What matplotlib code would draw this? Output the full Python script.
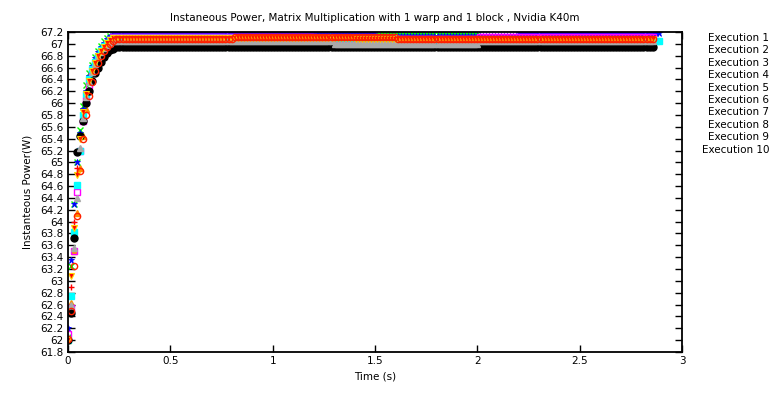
import numpy as np
import matplotlib
matplotlib.use('agg')
import matplotlib.pyplot as plt

# sampling period of the power readings (s)
dt = 0.0148

labels = ['Execution %d' % i for i in range(1, 11)]

# ramp-up readings (W), one per sample from t = 0
rise_1 = [62.02, 62.9, 64.0, 64.9, 65.5, 65.9, 66.2, 66.4, 66.55, 66.68, 66.78, 66.86, 66.93, 66.98, 67.03, 67.06, 67.1]
rise_2 = [62.05, 63.25, 64.3, 65.0, 65.55, 65.95, 66.3, 66.5, 66.65, 66.78, 66.88, 66.96, 67.04, 67.1, 67.14, 67.17]
rise_3 = [62.2, 63.35, 64.3, 65.0, 65.5, 65.9, 66.2, 66.45, 66.62, 66.76, 66.86, 66.95, 67.02, 67.08, 67.14, 67.18]
rise_4 = [62.1, 62.55, 63.5, 64.5, 65.2, 65.7, 66.05, 66.3, 66.5, 66.65, 66.77, 66.87, 66.95, 67.01, 67.06, 67.12]
rise_5 = [62.0, 62.75, 63.82, 64.62, 65.2, 65.8, 66.15, 66.4, 66.57, 66.7, 66.8, 66.89, 66.96, 67.02, 67.06, 67.1]
rise_6 = [62.0, 62.46, 63.72, 65.17, 65.45, 65.7, 66.0, 66.2, 66.38, 66.5, 66.6, 66.7, 66.78, 66.84, 66.89, 66.92, 66.94]
rise_7 = [62.05, 62.6, 63.55, 64.4, 65.25, 65.75, 66.1, 66.35, 66.52, 66.66, 66.77, 66.86, 66.93, 66.98, 67.02, 67.04]
rise_8 = [62.0, 62.62, 63.5, 64.15, 64.9, 65.45, 65.9, 66.2, 66.42, 66.58, 66.7, 66.8, 66.88, 66.94, 67.0]
rise_9 = [62.0, 63.08, 63.9, 64.78, 65.4, 65.85, 66.15, 66.38, 66.55, 66.68, 66.79, 66.88, 66.95, 67.01, 67.06, 67.1]
rise_10 = [62.02, 62.5, 63.25, 64.1, 64.85, 65.4, 65.8, 66.12, 66.36, 66.55, 66.68, 66.79, 66.88, 66.95, 67.0, 67.04, 67.08]

# steady-state readings: (segment end time in s, power in W)
flat_1 = [(1.0, 67.1), (2.0, 67.06), (2.87, 67.1)]
flat_2 = [(0.55, 67.17), (0.8, 66.94), (2.0, 67.17), (2.87, 67.04)]
flat_3 = [(1.5, 67.18), (2.2, 67.14), (2.89, 67.18)]
flat_4 = [(1.2, 67.12), (2.0, 67.08), (2.87, 67.12)]
flat_5 = [(1.6, 67.1), (2.2, 67.0), (2.89, 67.04)]
flat_6 = [(2.87, 66.94)]
flat_7 = [(1.3, 67.04), (2.0, 67.0), (2.87, 67.04)]
flat_8 = [(2.87, 67.0)]
flat_9 = [(1.4, 67.1), (2.87, 67.08)]
flat_10 = [(0.8, 67.08), (1.6, 67.12), (2.87, 67.08)]

rises = [rise_1, rise_2, rise_3, rise_4, rise_5, rise_6, rise_7, rise_8, rise_9, rise_10]
flats = [flat_1, flat_2, flat_3, flat_4, flat_5, flat_6, flat_7, flat_8, flat_9, flat_10]

# gnuplot-like point styles
styles = [
    dict(marker='+', color='red', ms=5, mew=1),
    dict(marker='x', color='#00ff00', ms=4, mew=1),
    dict(marker='*', color='blue', ms=5, mew=0.6),
    dict(marker='s', mfc='none', mec='magenta', ms=4.5, mew=1),
    dict(marker='s', color='cyan', ms=4.5),
    dict(marker='o', color='black', ms=5),
    dict(marker='^', color='darkgray', ms=5),
    dict(marker='^', color='#ff8c00', ms=4.5, zorder=1.5),
    dict(marker='v', mfc='red', mec='gold', ms=4.5, mew=0.8),
    dict(marker='o', mfc='none', mec='#ff2000', ms=4.5, mew=1),
]


def build_series(rise, flat):
    t_end = flat[-1][0]
    t = np.arange(0, t_end + 1e-9, dt)
    p = np.empty_like(t)
    for i, ti in enumerate(t):
        if i < len(rise):
            p[i] = rise[i]
        else:
            for seg_end, level in flat:
                if ti <= seg_end + 1e-9:
                    p[i] = level
                    break
    return t, p


fig = plt.figure(figsize=(7.77, 3.94), dpi=100)
ax = fig.add_axes([0.0875, 0.1066, 0.7902, 0.8122])

for rise, flat, st in zip(rises, flats, styles):
    t, p = build_series(rise, flat)
    ax.plot(t, p, ls='none', **st)

ax.set_xlim(0, 3)
ax.set_ylim(61.8, 67.2)
ax.set_xticks(np.arange(0, 3.01, 0.5))
ax.set_xticklabels(['0', '0.5', '1', '1.5', '2', '2.5', '3'])
yt = np.round(np.arange(61.8, 67.21, 0.2), 1)
ax.set_yticks(yt)
ax.set_yticklabels(['%g' % v for v in yt])
ax.tick_params(direction='in', top=True, right=True, labelsize=7.5, length=5, width=1, pad=3)
for sp in ax.spines.values():
    sp.set_linewidth(1.3)

ax.set_xlabel('Time (s)', fontsize=7.5, labelpad=4)
ax.set_ylabel('Instanteous Power(W)', fontsize=7.5, labelpad=6)
ax.set_title('Instaneous Power, Matrix Multiplication with 1 warp and 1 block , Nvidia K40m',
             fontsize=7.5, pad=8)

# key entries, right-aligned in the margin
for i, lab in enumerate(labels):
    fig.text(0.99, (394 - 38 - i * 12.4) / 394, lab, ha='right', va='center', fontsize=7.5)

fig.savefig('out.png', dpi=100)
